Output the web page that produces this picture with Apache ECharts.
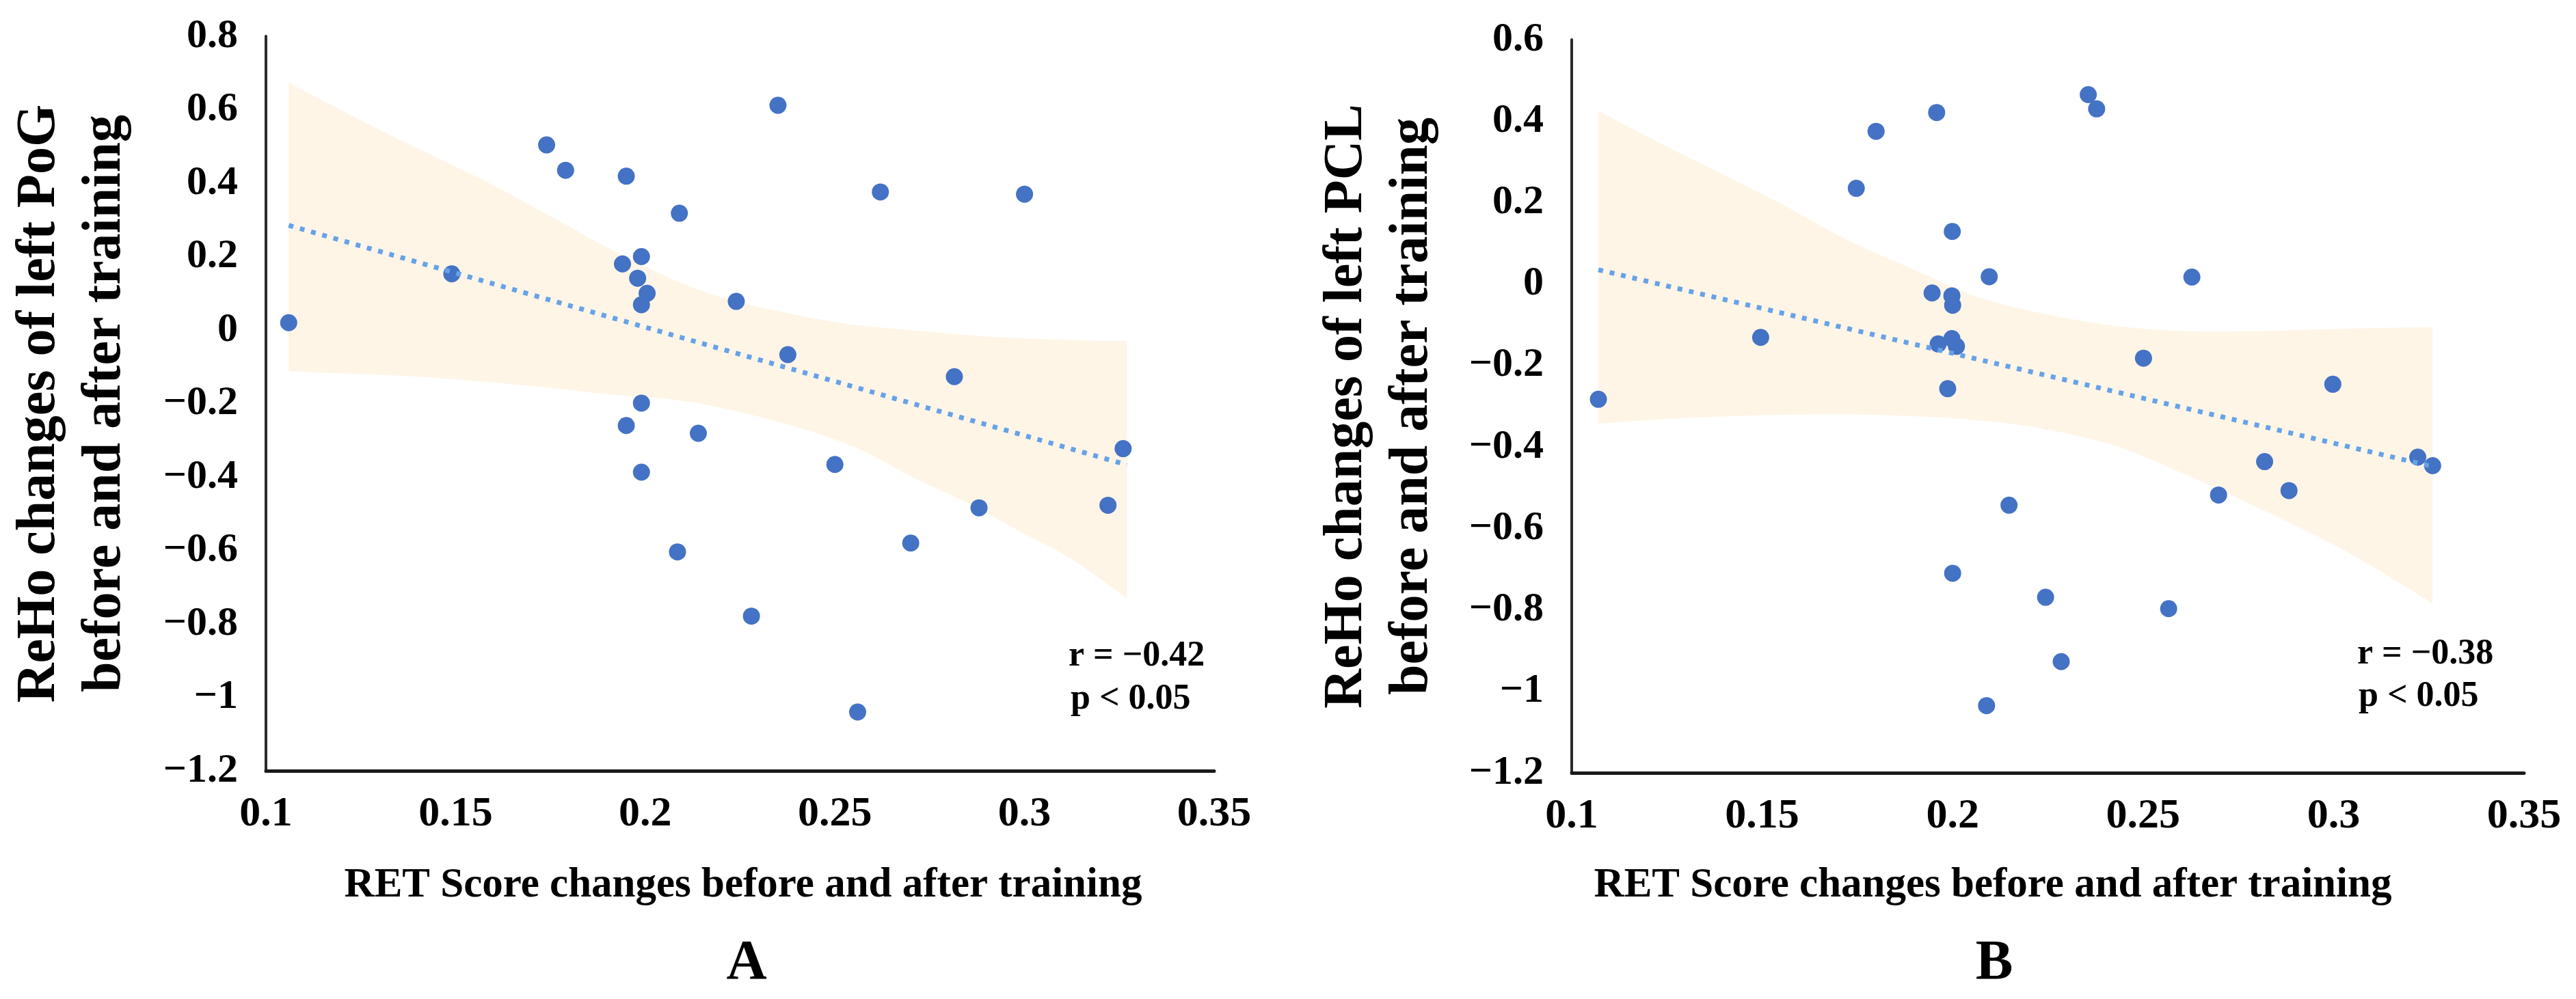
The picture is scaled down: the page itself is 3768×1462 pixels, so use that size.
<!DOCTYPE html>
<html>
<head>
<meta charset="utf-8">
<title>ReHo vs RET score changes</title>
<script src="https://cdn.jsdelivr.net/npm/echarts@6/dist/echarts.min.js"></script>
<style>
  html, body { margin: 0; padding: 0; background: #fff; }
  #chart { width: 3768px; height: 1462px; }
</style>
</head>
<body>
<div id="chart"></div>
<script>
// ---- panel A: left PoG ----
const xA = [0.106, 0.149, 0.174, 0.179, 0.195, 0.235, 0.209, 0.262, 0.300, 0.199,
            0.194, 0.198, 0.2005, 0.199, 0.224, 0.2376, 0.2815, 0.199, 0.195, 0.214,
            0.326, 0.250, 0.199, 0.288, 0.322, 0.270, 0.2085, 0.228, 0.256];
const yA = [0.020, 0.153, 0.504, 0.435, 0.419, 0.612, 0.318, 0.376, 0.370, 0.200,
            0.180, 0.141, 0.100, 0.069, 0.078, -0.067, -0.127, -0.199, -0.260, -0.281,
            -0.323, -0.366, -0.387, -0.484, -0.477, -0.580, -0.604, -0.779, -1.040];
const trendXA = [0.106, 0.327];
const trendYA = [0.285, -0.367];
const bandXA = [0.106, 0.13, 0.146, 0.16, 0.178, 0.19, 0.208, 0.224, 0.243, 0.257, 0.27, 0.284, 0.298, 0.312, 0.327];
const bandHiA = [0.674, 0.545, 0.465, 0.394, 0.293, 0.225, 0.135, 0.078, 0.035, 0.012, 0.0, -0.013, -0.022, -0.027, -0.030];
const bandLoA = [-0.112, -0.122, -0.131, -0.143, -0.161, -0.175, -0.19, -0.221, -0.274, -0.327, -0.398, -0.466, -0.544, -0.621, -0.730];

// ---- panel B: left PCL ----
const xB = [0.107, 0.1496, 0.1799, 0.1958, 0.2356, 0.2378, 0.1747, 0.1999, 0.2096, 0.2628,
            0.1946, 0.1998, 0.2, 0.1962, 0.1998, 0.201, 0.2501, 0.1987, 0.2998, 0.2819,
            0.3221, 0.326, 0.2698, 0.2883, 0.2148, 0.2, 0.2244, 0.2567, 0.2285, 0.2089];
const yB = [-0.283, -0.131, 0.375, 0.421, 0.465, 0.430, 0.235, 0.129, 0.018, 0.017,
            -0.022, -0.029, -0.052, -0.147, -0.134, -0.153, -0.182, -0.257, -0.246, -0.436,
            -0.425, -0.446, -0.518, -0.507, -0.543, -0.710, -0.769, -0.797, -0.927, -1.035];
const trendXB = [0.107, 0.326];
const trendYB = [0.035, -0.448];
const bandXB = [0.107, 0.124, 0.14, 0.156, 0.172, 0.188, 0.206, 0.224, 0.243, 0.261, 0.279, 0.298, 0.311, 0.326];
const bandHiB = [0.425, 0.342, 0.268, 0.192, 0.110, 0.043, -0.030, -0.073, -0.103, -0.116, -0.116, -0.111, -0.108, -0.106];
const bandLoB = [-0.343, -0.332, -0.325, -0.321, -0.320, -0.324, -0.334, -0.356, -0.398, -0.467, -0.544, -0.630, -0.698, -0.784];

const xTicks = ["0.1", "0.15", "0.2", "0.25", "0.3", "0.35"];
const yTitleA = "ReHo changes of left PoG\nbefore and after training";
const yTitleB = "ReHo changes of left PCL\nbefore and after training";
const xTitle = "RET Score changes before and after training";
const statsA = ["r = \u22120.42", "p < 0.05"];
const statsB = ["r = \u22120.38", "p < 0.05"];

const FONT = '"Liberation Serif", "Times New Roman", serif';
const DOT = "#4472C4";
const TREND = "#66A2E8";
const BAND = "#FEF5E7";

const pairs = (xs, ys) => xs.map((x, i) => [x, ys[i]]);
const minus = (v) => String(v).replace("-", "\u2212");

// smooth curve (Catmull-Rom as cubic beziers) through pixel points
function curveThrough(pts, first) {
  let d = first ? "M" + pts[0][0] + " " + pts[0][1] : "L" + pts[0][0] + " " + pts[0][1];
  for (let i = 0; i < pts.length - 1; i++) {
    const p0 = pts[Math.max(i - 1, 0)];
    const p1 = pts[i];
    const p2 = pts[i + 1];
    const p3 = pts[Math.min(i + 2, pts.length - 1)];
    const c1x = p1[0] + (p2[0] - p0[0]) / 6, c1y = p1[1] + (p2[1] - p0[1]) / 6;
    const c2x = p2[0] - (p3[0] - p1[0]) / 6, c2y = p2[1] - (p3[1] - p1[1]) / 6;
    d += " C" + c1x + " " + c1y + " " + c2x + " " + c2y + " " + p2[0] + " " + p2[1];
  }
  return d;
}

const chart = echarts.init(document.getElementById("chart"), null, { renderer: "canvas" });

const xAxisFor = (gridIndex) => ({
  type: "value",
  gridIndex,
  min: 0.1,
  max: 0.35,
  interval: 0.05,
  splitLine: { show: false },
  axisTick: { show: false },
  axisLine: { onZero: false, lineStyle: { color: "#1a1a1a", width: 5 } },
  axisLabel: {
    margin: 33,
    color: "#000",
    fontFamily: FONT,
    fontWeight: "bold",
    fontSize: 62,
    formatter: (v) => xTicks.find((t) => Math.abs(parseFloat(t) - v) < 1e-6) || String(v),
  },
});

const yAxisFor = (gridIndex, max, name, gap) => ({
  type: "value",
  gridIndex,
  min: -1.2,
  max,
  interval: 0.2,
  name,
  nameLocation: "middle",
  nameRotate: 90,
  nameGap: gap,
  nameTextStyle: {
    color: "#000",
    fontFamily: FONT,
    fontWeight: "bold",
    fontSize: 80,
    lineHeight: 96,
  },
  splitLine: { show: false },
  axisTick: { show: false },
  axisLine: { show: true, onZero: false, lineStyle: { color: "#2a2a2a", width: 4 } },
  axisLabel: {
    margin: 41,
    color: "#000",
    fontFamily: FONT,
    fontWeight: "bold",
    fontSize: 60,
    formatter: (v) => minus(Math.round(v * 10) / 10),
  },
});

const panelSeries = (idx, xs, ys, tx, ty, bx, bhi, blo) => [
  {
    // confidence band, drawn once through the axes' coordinates
    type: "custom",
    coordinateSystem: "cartesian2d",
    xAxisIndex: idx,
    yAxisIndex: idx,
    data: [[bx[0], bhi[0]]],
    silent: true,
    z: 1,
    renderItem: (params, api) => {
      const up = bx.map((x, i) => api.coord([x, bhi[i]]));
      const lo = bx.map((x, i) => api.coord([x, blo[i]])).reverse();
      const d = curveThrough(up, true) + " " + curveThrough(lo, false) + " Z";
      return { type: "path", shape: { pathData: d }, style: { fill: BAND, stroke: null } };
    },
  },
  {
    type: "scatter",
    xAxisIndex: idx,
    yAxisIndex: idx,
    data: pairs(xs, ys),
    symbolSize: 25,
    itemStyle: { color: DOT, opacity: 1 },
    z: 3,
  },
  {
    type: "line",
    xAxisIndex: idx,
    yAxisIndex: idx,
    data: pairs(tx, ty),
    symbol: "none",
    lineStyle: { color: TREND, width: 7, type: [7, 10], cap: "butt" },
    z: 4,
  },
];

const txt = (text, x, y, size, align) => ({
  type: "text",
  x,
  y,
  style: {
    text,
    fill: "#000",
    font: "bold " + size + "px " + FONT,
    textAlign: align || "center",
    textVerticalAlign: "middle",
  },
});

const option = {
  backgroundColor: "#fff",
  animation: false,
  grid: [
    { left: 389, top: 53, width: 1387, height: 1075 },
    { left: 2299, top: 58, width: 1393, height: 1073 },
  ],
  xAxis: [xAxisFor(0), xAxisFor(1)],
  yAxis: [yAxisFor(0, 0.8, yTitleA, 187), yAxisFor(1, 0.6, yTitleB, 185)],
  series: [
    ...panelSeries(0, xA, yA, trendXA, trendYA, bandXA, bandHiA, bandLoA),
    ...panelSeries(1, xB, yB, trendXB, trendYB, bandXB, bandHiB, bandLoB),
  ],
  graphic: [
    txt(xTitle, 1087, 1296, 61),
    txt(xTitle, 2915, 1296, 61),
    txt("A", 1092, 1411, 82),
    txt("B", 2917, 1411, 82),
    txt(statsA[0], 1563, 961, 52, "left"),
    txt(statsA[1], 1566, 1024, 52, "left"),
    txt(statsB[0], 3448, 958, 52, "left"),
    txt(statsB[1], 3450, 1020, 52, "left"),
  ],
};

chart.setOption(option);
window.addEventListener("resize", () => chart.resize());
</script>
</body>
</html>
